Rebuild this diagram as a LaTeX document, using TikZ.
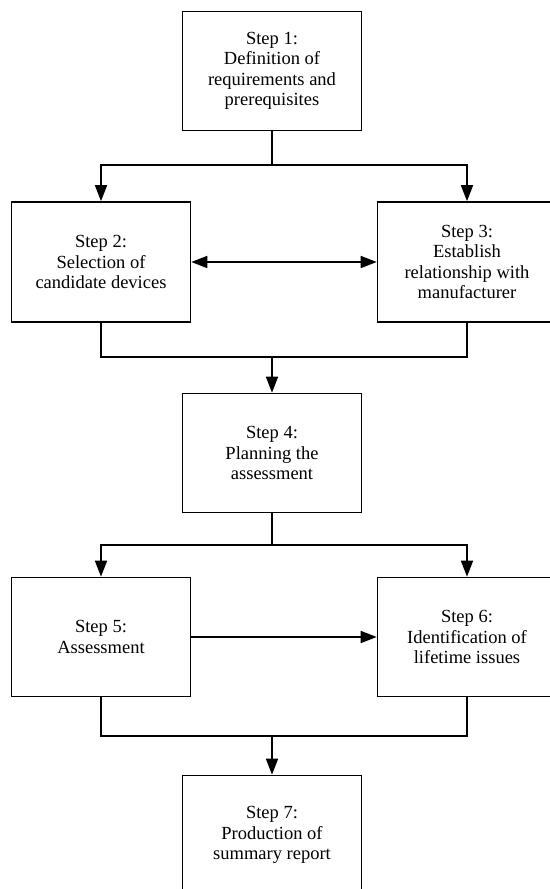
\documentclass[tikz,border=0pt]{standalone}
\usepackage{fontspec}
\setmainfont{Liberation Serif}
\usetikzlibrary{arrows.meta}

\tikzstyle{stepbox}=[rectangle,draw=black,line width=1.6pt,align=center,font=\rmfamily\fontsize{18.5}{20.5}\selectfont,minimum width=179pt,minimum height=119pt,inner sep=2pt]
\tikzstyle{link}=[line width=1.6pt]

\begin{document}
\begin{tikzpicture}[x=1pt,y=-1pt,>={Triangle[length=16pt,width=12pt]}]
	\useasboundingbox (0,0) rectangle (549,889);

	% Steps
	\node[stepbox] (step1) at (272,71) {Step 1:\\Definition of\\requirements and\\prerequisites};
	\node[stepbox,minimum height=120pt] (step2) at (101,262) {Step 2:\\Selection of\\candidate devices};
	\node[stepbox,minimum height=120pt] (step3) at (467,262) {Step 3:\\Establish\\relationship with\\manufacturer};
	\node[stepbox] (step4) at (272,453) {Step 4:\\Planning the\\assessment};
	\node[stepbox] (step5) at (101,637) {Step 5:\\Assessment};
	\node[stepbox] (step6) at (467,637) {Step 6:\\Identification of\\lifetime issues};
	\node[stepbox] (step7) at (272,835) {Step 7:\\Production of\\summary report};

	% Junctions
	\coordinate (split1) at (272,165);
	\coordinate (join1) at (272,357);
	\coordinate (split2) at (272,545);
	\coordinate (join2) at (272,736);

	% Arrows
	\draw[link] (step1.south) -- (split1);
	\draw[link,->] (split1) -| (step2.north);
	\draw[link,->] (split1) -| (step3.north);
	\draw[link,<->] (step2.east) -- (step3.west);

	\draw[link] (step2.south) |- (join1) -| (step3.south);
	\draw[link,->] (join1) -- (step4.north);

	\draw[link] (step4.south) -- (split2);
	\draw[link,->] (split2) -| (step5.north);
	\draw[link,->] (split2) -| (step6.north);
	\draw[link,->] (step5.east) -- (step6.west);

	\draw[link] (step5.south) |- (join2) -| (step6.south);
	\draw[link,->] (join2) -- (step7.north);
\end{tikzpicture}
\end{document}
